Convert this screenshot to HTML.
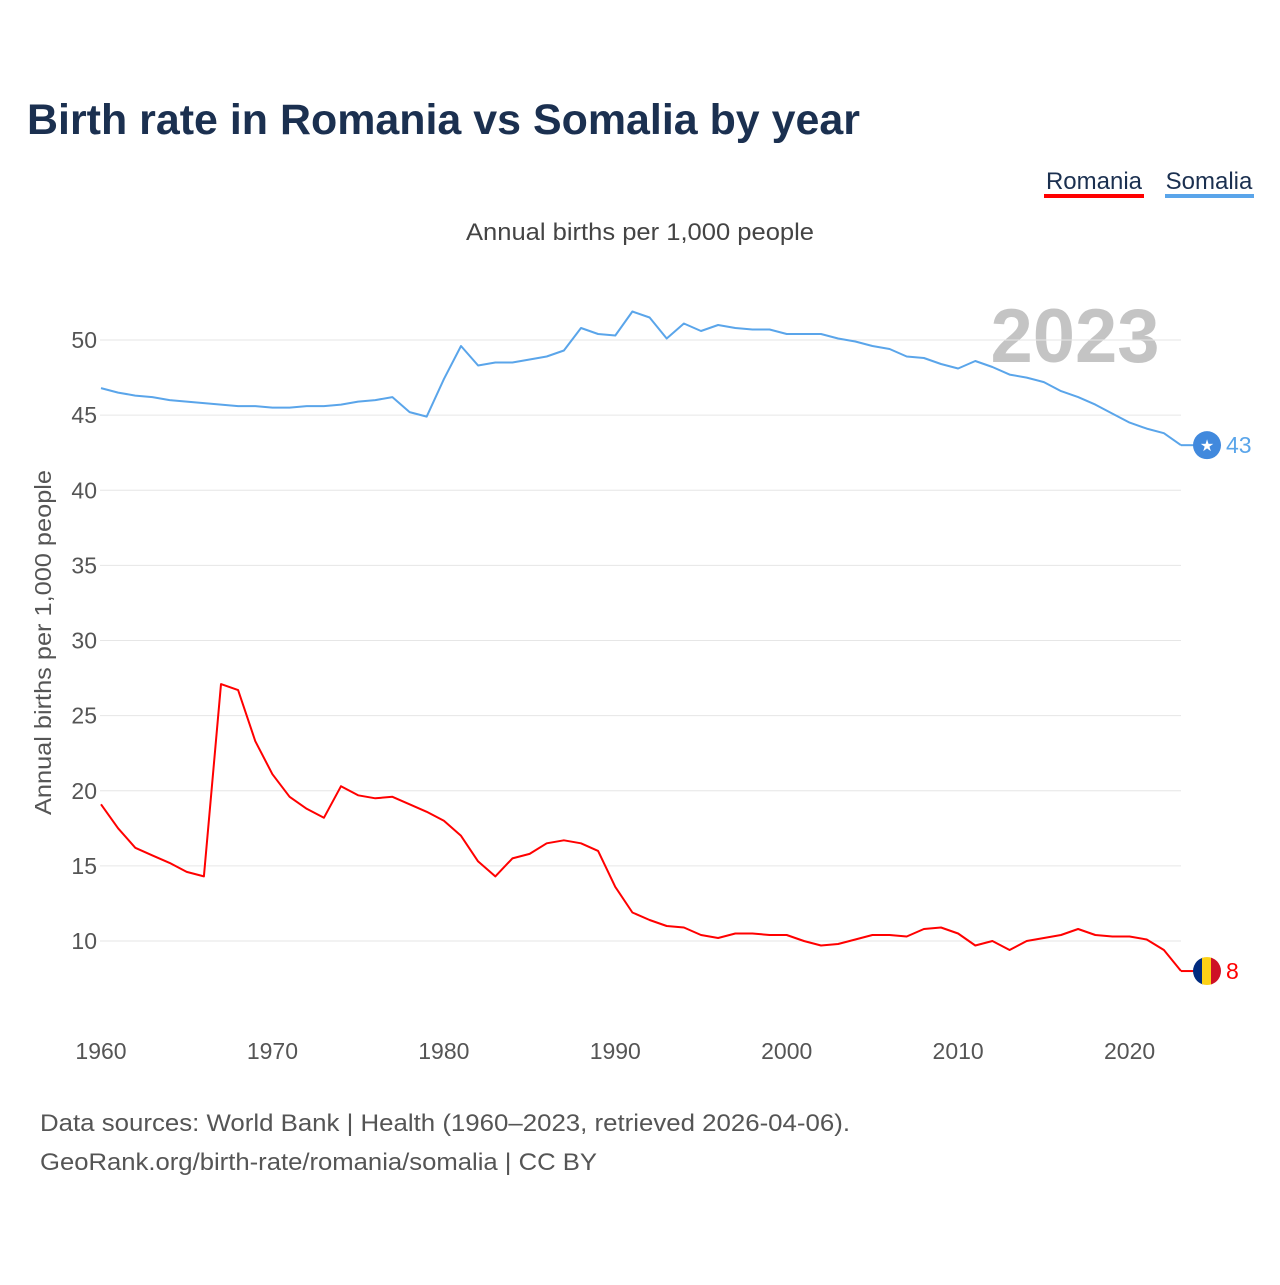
<!DOCTYPE html>
<html><head><meta charset="utf-8"><style>
body{margin:0;background:#fff;}
svg text{font-family:"Liberation Sans",sans-serif;}
</style></head><body>
<svg width="1280" height="1280" xmlns="http://www.w3.org/2000/svg" id="chart">
<text x="27" y="134" font-size="43" font-weight="bold" fill="#1b3050" textLength="833" lengthAdjust="spacingAndGlyphs">Birth rate in Romania vs Somalia by year</text>
<g>
<text x="1094" y="189" font-size="24" fill="#1b3050" text-anchor="middle">Romania</text>
<rect x="1044" y="194" width="100" height="4" fill="#ff0000"/>
<text x="1209" y="189" font-size="24" fill="#1b3050" text-anchor="middle">Somalia</text>
<rect x="1165" y="194" width="89" height="4" fill="#5aa5ea"/>
</g>
<text x="466" y="240" font-size="24" fill="#444" textLength="348" lengthAdjust="spacingAndGlyphs">Annual births per 1,000 people</text>
<text x="1075" y="362" font-size="76" font-weight="bold" fill="#c4c4c4" text-anchor="middle">2023</text>
<text transform="translate(51,815) rotate(-90)" font-size="23" fill="#555" textLength="345" lengthAdjust="spacingAndGlyphs">Annual births per 1,000 people</text>
<g id="grid"></g><g id="yt"></g><g id="xt"></g><g id="lines"></g>
<text x="40" y="1131" font-size="24" fill="#555" textLength="810" lengthAdjust="spacingAndGlyphs">Data sources: World Bank | Health (1960–2023, retrieved 2026-04-06).</text>
<text x="40" y="1170" font-size="24" fill="#555" textLength="557" lengthAdjust="spacingAndGlyphs">GeoRank.org/birth-rate/romania/somalia | CC BY</text>
</svg>
<script>
const years=[];for(let y=1960;y<=2023;y++)years.push(y);
const romania=[19.1,17.5,16.2,15.7,15.2,14.6,14.3,27.1,26.7,23.3,21.1,19.6,18.8,18.2,20.3,19.7,19.5,19.6,19.1,18.6,18.0,17.0,15.3,14.3,15.5,15.8,16.5,16.7,16.5,16.0,13.6,11.9,11.4,11.0,10.9,10.4,10.2,10.5,10.5,10.4,10.4,10.0,9.7,9.8,10.1,10.4,10.4,10.3,10.8,10.9,10.5,9.7,10.0,9.4,10.0,10.2,10.4,10.8,10.4,10.3,10.3,10.1,9.4,8.0];
const somalia=[46.8,46.5,46.3,46.2,46.0,45.9,45.8,45.7,45.6,45.6,45.5,45.5,45.6,45.6,45.7,45.9,46.0,46.2,45.2,44.9,47.4,49.6,48.3,48.5,48.5,48.7,48.9,49.3,50.8,50.4,50.3,51.9,51.5,50.1,51.1,50.6,51.0,50.8,50.7,50.7,50.4,50.4,50.4,50.1,49.9,49.6,49.4,48.9,48.8,48.4,48.1,48.6,48.2,47.7,47.5,47.2,46.6,46.2,45.7,45.1,44.5,44.1,43.8,43.0];
const yTicks=[10,15,20,25,30,35,40,45,50];
const xTicks=[1960,1970,1980,1990,2000,2010,2020];
const NS="http://www.w3.org/2000/svg";
const X=y=>101+(y-1960)*(1181-101)/63;
const Y=v=>941-(v-10)*15.025;
function mk(t,a,p){const e=document.createElementNS(NS,t);for(const k in a)e.setAttribute(k,a[k]);p.appendChild(e);return e;}
const grid=document.getElementById('grid'),yt=document.getElementById('yt'),xt=document.getElementById('xt'),lines=document.getElementById('lines');
yTicks.forEach(v=>{
const l=mk('line',{x1:100,x2:1181,y1:Y(v),y2:Y(v),stroke:'#e6e6e6','stroke-width':1},grid);


const t=mk('text',{x:97,y:Y(v)+8,'font-size':23,fill:'#555','text-anchor':'end'},yt);t.textContent=v;


});
xTicks.forEach(v=>{
const t=mk('text',{x:X(v),y:1059,'font-size':23,fill:'#555','text-anchor':'middle'},xt);t.textContent=v;


});
function line(vals,color,name){
const p=mk('path',{d:vals.map((v,i)=>(i?'L':'M')+X(years[i]).toFixed(1)+','+Y(v).toFixed(1)).join(''),fill:'none',stroke:color,'stroke-width':2,'stroke-linejoin':'round'},lines);


}
line(somalia,'#5aa5ea','somalia-line');
line(romania,'#ff0000','romania-line');
const lastS=somalia[somalia.length-1],lastR=romania[romania.length-1],lx=X(2023);
mk('line',{x1:lx,x2:lx+14,y1:Y(lastS),y2:Y(lastS),stroke:'#5aa5ea','stroke-width':2},lines);
const sm=mk('circle',{cx:lx+26,cy:Y(lastS),r:14,fill:'#4189dd'},lines);


const st=mk('text',{x:lx+26,y:Y(lastS)+6,'font-size':16,fill:'#fff','text-anchor':'middle'},lines);st.textContent='★';
const sl=mk('text',{x:lx+45,y:Y(lastS)+8,'font-size':23,fill:'#5aa5ea'},lines);sl.textContent=Math.round(lastS);


mk('line',{x1:lx,x2:lx+14,y1:Y(lastR),y2:Y(lastR),stroke:'#ff0000','stroke-width':2},lines);
const cp=mk('clipPath',{id:'rc'},lines);mk('circle',{cx:lx+26,cy:Y(lastR),r:14},cp);
const rg=mk('g',{'clip-path':'url(#rc)'},lines);


mk('rect',{x:lx+12,y:Y(lastR)-14,width:10,height:28,fill:'#002b7f'},rg);
mk('rect',{x:lx+21,y:Y(lastR)-14,width:10,height:28,fill:'#fcd116'},rg);
mk('rect',{x:lx+30,y:Y(lastR)-14,width:10,height:28,fill:'#ce1126'},rg);
const rl=mk('text',{x:lx+45,y:Y(lastR)+8,'font-size':23,fill:'#ff0000'},lines);rl.textContent=Math.round(lastR);


</script>
</body></html>
